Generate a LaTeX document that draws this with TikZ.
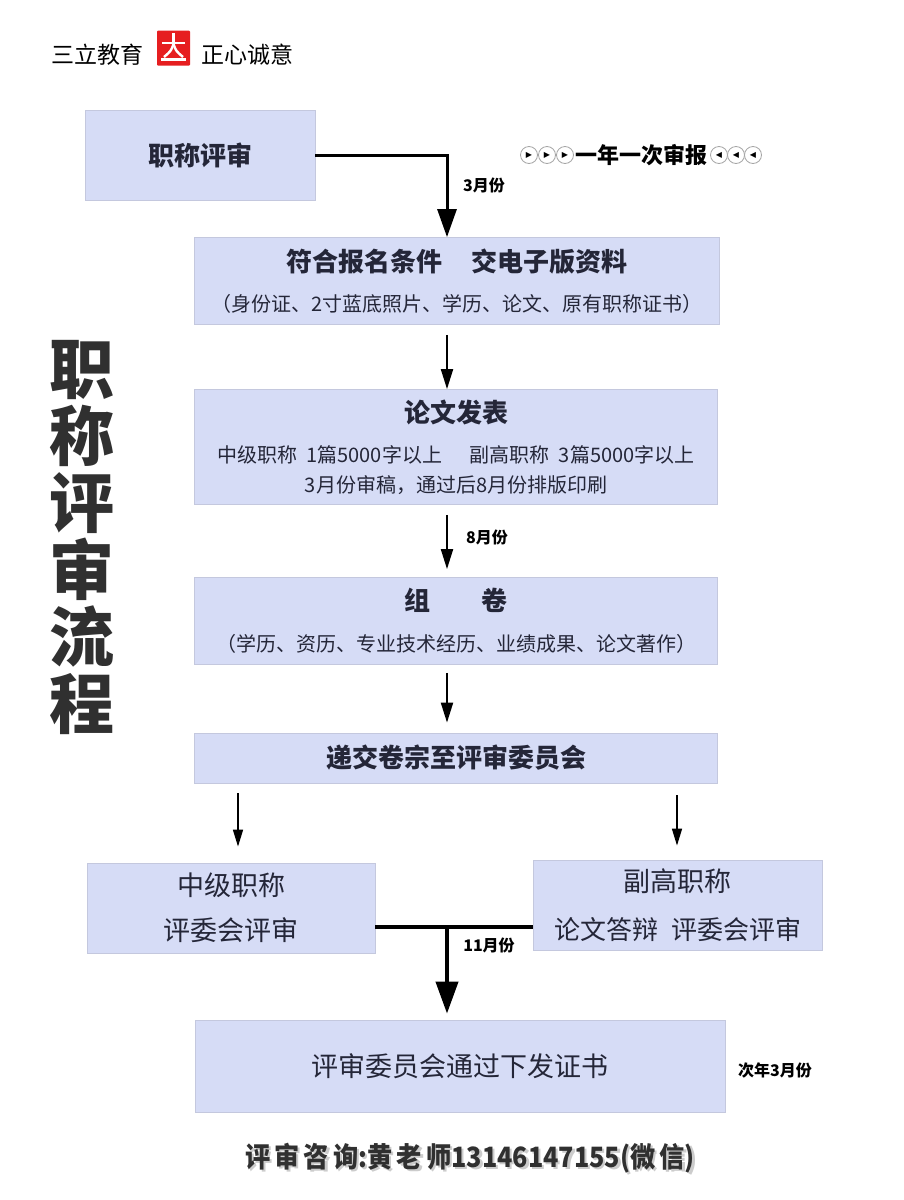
\documentclass[tikz,border=0pt]{standalone}
\usepackage{fontspec}
\setmainfont{Noto Sans CJK SC}
\newfontfamily\symfont{DejaVu Sans}
\usetikzlibrary{arrows.meta}
\definecolor{boxfill}{RGB}{214,220,246}
\definecolor{boxedge}{RGB}{196,200,222}
\definecolor{ink}{RGB}{36,38,56}
\definecolor{darkink}{RGB}{48,48,48}
\definecolor{sealred}{RGB}{230,30,32}
\newcommand{\fs}[2]{\fontsize{#1}{#2}\selectfont}
\tikzstyle{box} = [rectangle, draw=boxedge, line width=0.8pt, fill=boxfill, text=ink, align=center, inner sep=0pt]
\tikzstyle{month} = [font=\fs{16}{16}\bfseries, text=black, inner sep=0pt]

\begin{document}
\begin{tikzpicture}[x=1pt,y=-1pt]
	\tikzset{
		arrow thin/.style={line width=2pt, -{Triangle[length=20pt,width=12pt]}},
		arrow side/.style={line width=1.6pt, -{Triangle[length=17pt,width=10pt]}},
		arrow mid/.style={line width=3pt, -{Triangle[length=28pt,width=19pt]}},
		arrow big/.style={line width=4pt, -{Triangle[length=32pt,width=22pt]}},
		ring/.style={circle, draw=gray!70, line width=0.8pt, minimum size=17pt, inner sep=0pt, font=\symfont\fs{8}{8}}
	}
	\useasboundingbox (0,0) rectangle (903,1200);
	\fill[white] (0,0) rectangle (903,1200);

	\node[font=\fs{23}{23}, inner sep=0pt] (brand) at (97,55) {三立教育};
	\node[fill=sealred, minimum width=33pt, minimum height=35pt, inner sep=0pt, rounded corners=1pt] (seal) at (173.5,48) {};
	\draw[white, line width=2.6pt] (173.5,33) -- (173.5,42);
	\draw[white, line width=2.6pt] (162,43) -- (185,43);
	\draw[white, line width=2.4pt] (173.5,44) .. controls (171,51) .. (164,57);
	\draw[white, line width=2.4pt] (173.5,44) .. controls (176,51) .. (183,57);
	\draw[white, line width=2.6pt] (161,59.5) -- (186,59.5);
	\node[font=\fs{23}{23}, inner sep=0pt] (motto) at (247,55) {正心诚意};

	\node[font=\fs{65}{67}\bfseries, text=darkink, align=center, inner sep=0pt] (vtitle) at (82,537) {职\\称\\评\\审\\流\\程};

	\coordinate (spine) at (447,0);

	\node[box, minimum width=230pt, minimum height=90pt, font=\fs{26}{26}\bfseries] (zc) at (200,155) {职称评审};
	\node[box, minimum width=525pt, minimum height=87pt, font=\fs{20}{40}] (bm) at (457,281) {{\fs{26}{40}\bfseries 符合报名条件\hspace{1.1em}交电子版资料}\\（身份证、2寸蓝底照片、学历、论文、原有职称证书）};
	\node[box, minimum width=523pt, minimum height=115pt, font=\fs{20}{30}] (lw) at (456,447) {{\fs{26}{30}\bfseries 论文发表}\\[10pt]中级职称\ \ 1篇5000字以上\hspace{1.4em}副高职称\ \ 3篇5000字以上\\3月份审稿，通过后8月份排版印刷};
	\node[box, minimum width=523pt, minimum height=87pt, font=\fs{20}{41}] (zj) at (456,621) {{\fs{26}{41}\bfseries 组\hspace{2em}卷}\\（学历、资历、专业技术经历、业绩成果、论文著作）};
	\node[box, minimum width=523pt, minimum height=50pt, font=\fs{26}{26}\bfseries] (dj) at (456,758) {递交卷宗至评审委员会};
	\node[box, minimum width=288pt, minimum height=90pt, font=\fs{27}{45}] (zg) at (231,908) {中级职称\\评委会评审};
	\node[box, minimum width=289pt, minimum height=90pt, font=\fs{26}{48}] (fg) at (677.5,905) {{\fs{27}{48}副高职称}\\论文答辩\hspace{0.5em}评委会评审};
	\node[box, minimum width=530pt, minimum height=92pt, font=\fs{27}{27}] (zs) at (460,1066) {评审委员会通过下发证书};

	\foreach \i/\x in {1/529,2/547,3/565}
		\node[ring] (rl\i) at (\x,155) {▶};
	\node[font=\fs{22}{22}\bfseries, inner sep=0pt] (yearly) at (641,155) {一年一次审报};
	\foreach \i/\x in {1/719,2/736,3/753}
		\node[ring] (rr\i) at (\x,155) {◀};

	\draw[arrow mid] (zc.east) -| (spine |- bm.north);
	\node[month] (m3) at (484,185) {3月份};
	\draw[arrow thin] ([yshift=-10pt]bm.south -| spine) -- (spine |- lw.north);
	\draw[arrow thin] ([yshift=-10pt]lw.south -| spine) -- ([yshift=8pt]zj.north -| spine);
	\node[month] (m8) at (487,537) {8月份};
	\draw[arrow thin] ([yshift=-8pt]zj.south -| spine) -- ([yshift=10pt]dj.north -| spine);
	\draw[arrow side] ([yshift=-10pt]dj.south -| 238,0) -- ([yshift=16pt]zg.north -| 238,0);
	\draw[arrow side] ([yshift=-12pt]dj.south -| 677,0) -- ([yshift=14pt]fg.north -| 677,0);

	\coordinate (join) at (447,927);
	\draw[line width=3.5pt] (join -| zg.east) -- (join -| fg.west);
	\draw[arrow big] (join) -- ([yshift=6pt]zs.north -| join);
	\node[month] (m11) at (489,945) {11月份};
	\node[month] (mnext) at (775,1070) {次年3月份};

	\node[font=\fs{28}{28}\bfseries, text=gray!40, inner sep=0pt] (contactshade) at (472.5,1160.5) {\scalebox{0.9}[1]{评\,审\,咨\,询:黄\,老\,师13146147155(微\,信)}};
	\node[font=\fs{28}{28}\bfseries, text=darkink, inner sep=0pt] (contact) at (470,1158) {\scalebox{0.9}[1]{评\,审\,咨\,询:黄\,老\,师13146147155(微\,信)}};
\end{tikzpicture}
\end{document}
